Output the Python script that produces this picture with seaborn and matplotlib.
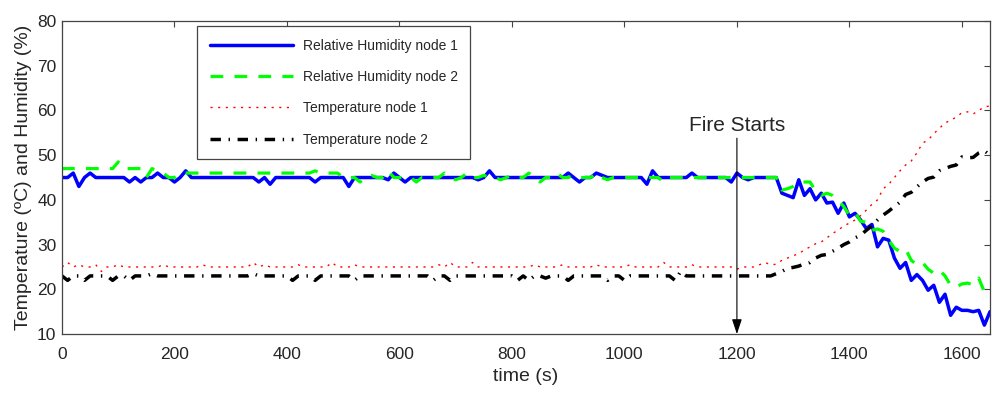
import numpy as np
import pandas as pd
import seaborn as sns
import matplotlib
matplotlib.use("Agg")
import matplotlib.pyplot as plt

# time axis, one reading every 10 s
time_s = np.arange(0, 1651, 10)

# values
rh_node1 = [
    45, 45, 46, 43, 45, 46, 45, 45, 45, 45,
    45, 45, 44, 45, 44, 45, 45, 46, 45, 45,
    44, 45, 46.5, 45, 45, 45, 45, 45, 45, 45,
    45, 45, 45, 45, 45, 44, 45, 43.5, 45, 45,
    45, 45, 45, 45, 45, 44, 45, 45, 45, 45,
    45, 43, 45, 45, 45, 45, 45, 45, 44.5, 46,
    45, 44, 45, 45, 45, 45, 45, 45, 45, 45,
    45, 45, 45, 45, 44.5, 45, 46.5, 45, 45, 45,
    45, 45, 45, 45, 45, 45, 45, 45, 45, 45,
    46, 45, 44, 45, 45, 46, 45.5, 45, 45, 45,
    45, 45, 45, 45, 43.5, 46.5, 45, 45, 45, 45,
    45, 45, 46, 45, 45, 45, 45, 45, 45, 44,
    46, 45, 44.5, 45, 45, 45, 45, 45, 41.5, 41,
    40.5, 44.5, 41, 42.5, 40, 41.5, 39.3, 39.5, 37, 39.3,
    36.2, 37, 35.5, 33.6, 34.5, 29.5, 31.4, 31, 27, 24.7,
    26, 22, 23.3, 22, 19.8, 20.9, 17.1, 18.9, 14.2, 16,
    15.3, 15.3, 15, 15.3, 12, 15,
]
rh_node2 = [
    47, 47, 47, 47, 47, 47, 47, 47, 47, 47,
    48.5, 47, 47, 47, 47, 45, 47, 46.5, 46, 45,
    45, 46, 46, 46, 46, 46, 46, 46, 46, 46,
    46, 46, 46, 46, 46, 46, 46, 46, 46, 46,
    46, 46, 46, 46, 46, 46.5, 46, 46, 46, 46,
    45, 45, 45, 44, 45, 45.5, 45, 45, 46.5, 45,
    45, 45, 45, 44, 45, 45, 45, 45, 46, 45,
    44.5, 45, 46, 45, 45, 45.5, 45, 45, 44.5, 45,
    45.5, 45, 45, 46, 45, 44, 45, 45, 46, 45,
    45, 45.5, 45, 45, 45, 46, 45, 44.5, 45, 45,
    45, 45, 45, 45, 45, 45, 45, 44, 45, 45,
    45, 45, 45, 45, 45, 45, 45, 45, 45, 45,
    45, 45, 45, 45, 45, 45, 45, 45, 42.2, 42.5,
    43, 44, 44, 44, 42, 41, 41.5, 41, 40, 38.5,
    36.6, 37.3, 35.2, 35, 33.2, 33.5, 33, 31, 29.2, 28.5,
    29, 26.5, 25.5, 26, 24.5, 23.6, 24.3, 23, 20.9, 20.5,
    21.2, 21.4, 21, 22.5, 19.4, 19.2,
]
temp_node1 = [
    25, 26, 25, 25.5, 25, 25, 25.5, 24, 25, 25,
    25.5, 25, 25, 25, 25, 25, 25, 25, 25.5, 25,
    25, 25, 25, 25, 25, 25.5, 25, 25, 25, 25,
    25, 25, 25, 25, 26, 25, 25.5, 25, 25, 25,
    25, 25, 25.5, 25, 25, 25, 25, 25, 26, 25,
    25, 25, 25.5, 25, 25, 25, 25, 25, 25, 25,
    25, 25, 25, 25, 25, 25, 25, 25.5, 25, 26,
    25, 25, 25, 26, 25, 25, 25, 25, 25, 25,
    25, 25, 25, 25, 25.5, 25, 25, 25, 25, 25.5,
    25, 25, 25, 25, 25, 25.5, 25, 25, 25, 25,
    25, 25.5, 25, 25, 25, 25, 25, 26, 25, 25,
    25, 25, 25.5, 25, 25, 25, 25, 25, 25, 25,
    24.5, 25, 25, 25, 25.5, 26, 25.5, 25.6, 26.5, 27,
    27.5, 28, 28.8, 29.5, 30.2, 30.6, 31.5, 32.5, 33.2, 34.2,
    34.8, 35.5, 36.5, 37.7, 39, 40, 42.5, 43.5, 45, 46.5,
    47.8, 48.7, 50.5, 52.7, 53.4, 54.8, 56, 57.2, 57.8, 58.5,
    59.5, 59.7, 59.2, 60, 60.8, 61,
]
temp_node2 = [
    23, 22, 23, 23, 22, 23, 23, 23, 23, 22,
    23, 23, 22, 23, 23, 23, 23.5, 23, 23, 23,
    23, 23, 23, 23, 23, 23, 23, 23, 23, 23,
    23, 23, 23, 23, 23.5, 23, 23, 23, 23, 23,
    23, 22, 23, 23, 23, 22, 23, 23, 23, 23,
    23, 23, 22, 23, 23, 23, 23, 23, 23, 23,
    23, 23, 23, 23, 23, 23, 22, 23, 23, 22,
    23, 23, 23, 23, 23, 23, 23, 23, 23, 23,
    23, 22, 23, 22, 23, 23, 22.5, 23, 23, 23,
    22, 23, 23, 23, 23, 23, 23, 22, 23, 23,
    22, 23, 23, 23, 23, 23, 23, 23, 23, 22,
    24, 23, 23, 23, 23, 23, 23, 23, 23, 23,
    23, 23, 23, 23, 23, 23, 23, 23.5, 24, 24.7,
    24.9, 25.2, 25.7, 26, 27, 27.6, 27.8, 28.5, 29.2, 30,
    30.6, 31.5, 32.1, 33.2, 34.2, 35.5, 36.6, 37.5, 38.5, 39.5,
    41.2, 41.7, 42.9, 44, 44.8, 45.1, 46.5, 47, 47.5, 47.8,
    49.6, 49.4, 49.5, 50.5, 51, 50,
]

labels = ["Relative Humidity node 1", "Relative Humidity node 2",
          "Temperature node 1", "Temperature node 2"]
x_ticks = list(range(0, 1601, 200))
y_ticks = list(range(10, 81, 10))

sns.set_style("white")
plt.rcParams["font.family"] = ["Liberation Sans", "DejaVu Sans"]

fig, ax = plt.subplots(figsize=(10, 3.93), dpi=100)
fig.subplots_adjust(left=0.062, right=0.99, top=0.9465, bottom=0.15)

# series styles (MATLAB look)
styles = [
    dict(color="#0000ff", lw=2.5, ls="-"),
    dict(color="#00ff00", lw=2.3, ls=(0, (4, 3.5))),
    dict(color="#ff0000", lw=1.0, ls=(0, (1.5, 4))),
    dict(color="black", lw=2.5, ls=(0, (3, 2.2, 0.4, 2.2))),
]
for vals, lab, st in zip([rh_node1, rh_node2, temp_node1, temp_node2], labels, styles):
    sns.lineplot(x=time_s, y=vals, ax=ax, label=lab, color=st["color"],
                 linewidth=st["lw"], linestyle=st["ls"])

ax.set_xlim(0, 1650)
ax.set_ylim(10, 80)
ax.set_xticks(x_ticks)
ax.set_yticks(y_ticks)
ax.tick_params(direction="in", length=4, labelsize=12.5, top=True, right=True,
               color="#444444")
ax.tick_params(axis="x", pad=9)
ax.tick_params(axis="y", pad=4)
for sp in ax.spines.values():
    sp.set_color("#444444")
    sp.set_linewidth(0.9)

ax.set_xlabel("time (s)", fontsize=14, labelpad=5)
ax.set_ylabel("Temperature (ºC) and Humidity (%)", fontsize=14, labelpad=4)

# fire start marker
ax.annotate("", xy=(1200, 10), xytext=(1200, 53.8),
            arrowprops=dict(arrowstyle="-|>,head_length=0.9,head_width=0.3",
                            color="black", lw=0.8, shrinkA=0, shrinkB=0))
ax.text(1200, 55.3, "Fire Starts", ha="center", va="baseline", fontsize=15)

leg = ax.legend(loc="upper left", bbox_to_anchor=(0.1455, 0.984), fontsize=10,
                handlelength=6, frameon=True, fancybox=False, framealpha=1,
                edgecolor="#444444", borderpad=0.9, labelspacing=1.25,
                handletextpad=0.7, borderaxespad=0)
leg.get_frame().set_linewidth(0.9)

plt.savefig("out.png", dpi=100)
